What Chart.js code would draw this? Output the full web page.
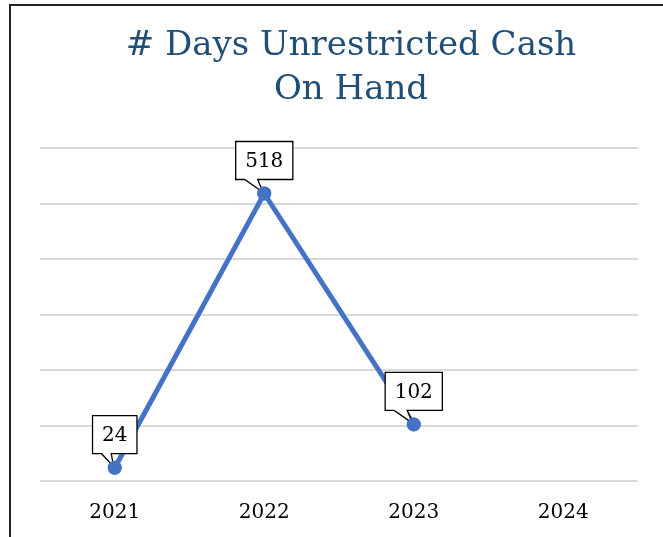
<!DOCTYPE html>
<html>
<head>
<meta charset="utf-8">
<script src="https://cdn.jsdelivr.net/npm/chart.js@4/dist/chart.umd.min.js"></script>
<style>
  html, body { margin: 0; padding: 0; background: #fff; }
  #wrap { position: relative; width: 663px; height: 537px; overflow: hidden; }
  #frame { position: absolute; left: 9px; top: 4px; width: 700px; height: 600px;
           border-left: 2px solid #222; border-top: 2px solid #222; }
  canvas { position: absolute; left: 0; top: 0; }
</style>
</head>
<body>
<div id="wrap">
  <div id="frame"></div>
  <canvas id="c" width="663" height="537"></canvas>
</div>
<script>
const titleLines = ['# Days Unrestricted Cash', 'On Hand'];
const years = ['2021', '2022', '2023', '2024'];
const daysCash = [24, 518, 102, null];
const yTicks = [0, 100, 200, 300, 400, 500, 600];

const SERIF = '"DejaVu Serif", "Liberation Serif", serif';

const titlePlugin = {
  id: 'customTitle',
  beforeDraw(chart) {
    const ctx = chart.ctx;
    ctx.save();
    ctx.fillStyle = '#1F4E79';
    ctx.font = '34px ' + SERIF;
    ctx.textAlign = 'center';
    ctx.textBaseline = 'alphabetic';
    ctx.fillText(titleLines[0], 351, 55);
    ctx.fillText(titleLines[1], 351, 99);
    ctx.restore();
  }
};

const calloutPlugin = {
  id: 'callouts',
  afterDatasetsDraw(chart) {
    const ctx = chart.ctx;
    const meta = chart.getDatasetMeta(0);
    ctx.save();
    ctx.font = '20px ' + SERIF;
    meta.data.forEach((pt, i) => {
      const v = daysCash[i];
      if (v === null || v === undefined || pt.skip) return;
      const txt = String(v);
      const tw = ctx.measureText(txt).width;
      const w = tw + 19, h = 38;
      const left = pt.x - w / 2;
      const bottom = pt.y - 14;
      const top = bottom - h;
      const b1 = left + 9, b2 = left + Math.min(22, w * 0.42);
      ctx.beginPath();
      ctx.moveTo(left, top);
      ctx.lineTo(left + w, top);
      ctx.lineTo(left + w, bottom);
      ctx.lineTo(b2, bottom);
      ctx.lineTo(pt.x - 1, pt.y - 1);
      ctx.lineTo(b1, bottom);
      ctx.lineTo(left, bottom);
      ctx.closePath();
      ctx.fillStyle = '#fff';
      ctx.fill();
      ctx.lineWidth = 1.3;
      ctx.strokeStyle = '#000';
      ctx.stroke();
      ctx.fillStyle = '#000';
      ctx.textAlign = 'center';
      ctx.textBaseline = 'middle';
      ctx.fillText(txt, pt.x, top + h / 2 + 1);
    });
    meta.data.forEach((pt, i) => {
      if (daysCash[i] !== null && !pt.skip) pt.draw(ctx, chart.chartArea);
    });
    ctx.restore();
  }
};

new Chart(document.getElementById('c'), {
  type: 'line',
  data: {
    labels: years,
    datasets: [{
      data: daysCash,
      borderColor: '#4472C4',
      backgroundColor: '#4472C4',
      borderWidth: 5,
      pointRadius: 7,
      pointBorderWidth: 0,
      pointBackgroundColor: '#4472C4',
      tension: 0,
      spanGaps: false
    }]
  },
  options: {
    responsive: false,
    animation: false,
    devicePixelRatio: 1,
    layout: { padding: { left: 40, right: 25, top: 148, bottom: 12 } },
    plugins: { legend: { display: false }, title: { display: false }, tooltip: { enabled: false } },
    scales: {
      x: {
        offset: true,
        grid: { display: false, drawTicks: false },
        border: { display: false },
        ticks: { color: '#000', font: { family: SERIF, size: 20 }, padding: 20, maxRotation: 0 },
        afterFit(axis) { axis.height = 44; }
      },
      y: {
        min: 0, max: 600,
        afterBuildTicks(axis) { axis.ticks = yTicks.map(v => ({ value: v })); },
        grid: { color: '#d9d9d9', lineWidth: 2, drawTicks: false },
        border: { display: false },
        ticks: { display: false }
      }
    }
  },
  plugins: [titlePlugin, calloutPlugin]
});
</script>
</body>
</html>
